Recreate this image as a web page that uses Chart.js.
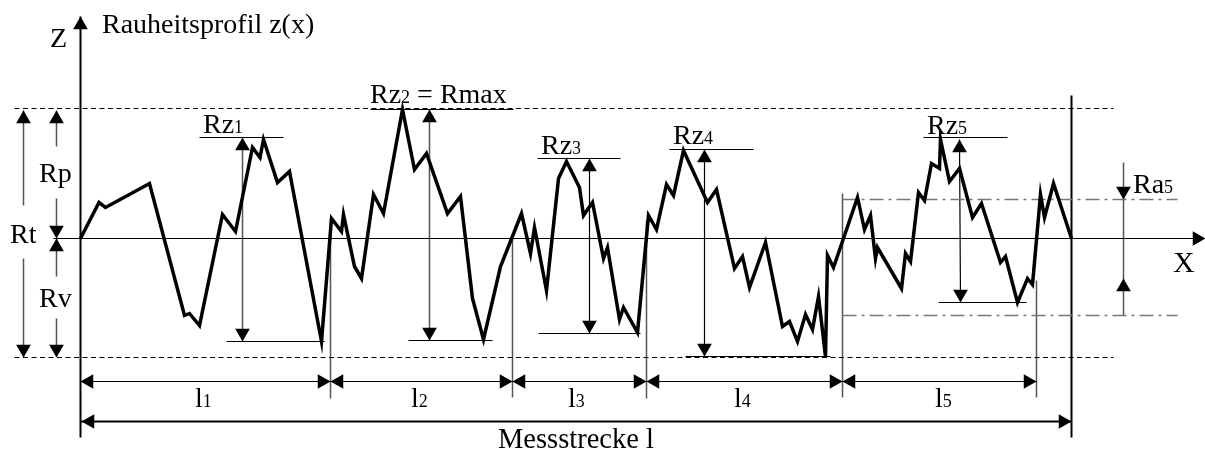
<!DOCTYPE html>
<html><head><meta charset="utf-8">
<style>html,body{margin:0;padding:0;background:#fff}#w{width:1205px;height:450px}</style>
<script src="https://cdn.jsdelivr.net/npm/chart.js@4"></script>
</head><body><div id="w"><canvas id="c" width="1205" height="450"></canvas></div>
<script>
// Roughness profile: x along the measuring length, z height above the mean line
const profileX=[0,18.5,25,69,104,109,119,142,155,172,179.5,183,197,209,241,251,261,263,274,281,293,303,322,334,346,367,380,392,403,420,441,450,454,466,478,486,499,503,512,523,527,539,543,557,568,576,586,593,603,627,636,654,662,669,685,702,709,717,725,732,738,745,747,753,777,784,790,795,797,821,825,830,838,844,851,859,860,869,879,892,901,920,925,937,947,952,960,964,973,991];
const profileZ=[0,36,31,55,-77,-75,-87,24,7,91,81,99,56,67,-103,20,7,24,-28,-40,44,25,129,69,85,25,42,-60,-101,-28,25,-15,11,-52,60,77,51,23,36,-20,-9,-81,-69,-94,23,9,54,43,88,36,49,-30,-18,-49,-4,-88,-83,-103,-76,-91,-58,-118,-17,-29,41,9,23,-20,-9,-50,-15,-23,46,38,75,70,99,57,70,21,35,-24,-18,-64,-40,-46,44,21,55,0];

const dashedLevels=[[-66,130,1033,130],[-66,-119,1033,-119]];
const dashDotLevels=[[762,39,1097,39],[762,-77,1097,-77]];
const heavyLines=[[0,222,0,-199],[991,143,991,-199],[1,-183,991,-183]];
const thinLines=[[-27,0,1115,0],
 [119,101,203,101],[146,-103,244,-103],[290,129,433,129],[328,-102,412,-102],
 [457,80,540,80],[458,-95,560,-95],[589,89,673,89],[605,-118,750,-118],
 [843,101,927,101],[858,-64,946,-64],
 [509,79,509,-94],[624,88,624,-118],[879,99,880,-64],
 [0,-143,250,-143],[250,-143,432,-143],[432,-143,566,-143],[566,-143,762,-143],[762,-143,956,-143]];
const greyLines=[[250,19,250,-160],[432,0,432,-159],[566,18,566,-160],[762,45,762,-159],[956,-42,956,-159],
 [162,99,162,-102],[349,129,349,-101],[1043,76,1043,-77],
 [-57,128,-57,33],[-57,-20,-57,-118],[-24,128,-24,92],[-24,40,-24,1],[-24,0,-24,-38],[-24,-80,-24,-118]];
// arrow tips: x, z, direction
const arrowTips=[[0,222,'u'],[1125,0,'r'],[-57,128,'u'],[-57,-119,'d'],[-24,128,'u'],[-24,0,'d'],[-24,0,'u'],[-24,-119,'d'],
 [162,101,'u'],[162,-103,'d'],[349,129,'u'],[349,-102,'d'],[509,80,'u'],[509,-95,'d'],[624,89,'u'],[624,-118,'d'],[879,99,'u'],[880,-64,'d'],
 [1043,39,'d'],[1043,-40,'u'],
 [0,-143,'l'],[250,-143,'r'],[250,-143,'l'],[432,-143,'r'],[432,-143,'l'],[566,-143,'r'],[566,-143,'l'],[762,-143,'r'],[762,-143,'l'],[956,-143,'r'],
 [1,-183,'l'],[991,-183,'r']];
// labels: main text, subscript, tail, left x, baseline z, font size
const labels=[['Rauheitsprofil z(x)','','',22,205,28],['Z','','',-30,191,28],['X','','',1093,-34,30],
 ['Rt','','',-70,-5,28],['Rp','','',-41,56,28],['Rv','','',-41,-69,28],
 ['Rz','1','',123,105,28],['Rz','2',' = Rmax',290,135,28],['Rz','3','',461,84,28],['Rz','4','',593,94,28],['Rz','5','',847,104,28],
 ['Ra','5','',1053,45,28],
 ['l','1','',115,-169,28],['l','2','',331,-169,28],['l','3','',488,-169,28],['l','4','',654,-169,28],['l','5','',855,-169,28],
 ['Messstrecke l','','',418,-210,28.5]];

const rotation={u:0,r:90,d:180,l:270};
const step={u:[0,-1],r:[-1,0],d:[0,1],l:[1,0]};
const headR=8.5;
const segs=a=>a.flatMap(s=>[{x:s[0],y:s[1]},{x:s[2],y:s[3]},{x:NaN,y:NaN}]);
const lineSet=(a,color,width,dash)=>({type:'line',data:segs(a),borderColor:color,borderWidth:width,borderDash:dash||[],pointRadius:0,spanGaps:false,tension:0,fill:false,order:3});

const textPlugin={id:'textPlugin',afterDraw(chart){
 const {ctx,scales:{x,y}}=chart;ctx.save();ctx.fillStyle='#000';ctx.textBaseline='alphabetic';
 for(const [m,s,t,lx,lz,size] of labels){
  let px=Math.floor(x.getPixelForValue(lx));const py=Math.floor(y.getPixelForValue(lz));
  ctx.font=size+'px "Liberation Serif"';ctx.fillText(m,px,py);px+=ctx.measureText(m).width;
  if(s){ctx.font=Math.round(size*0.65)+'px "Liberation Serif"';ctx.fillText(s,px,py);px+=ctx.measureText(s).width;}
  if(t){ctx.font=size+'px "Liberation Serif"';ctx.fillText(t,px,py);}
 }
 ctx.restore();
}};

new Chart(document.getElementById('c'),{
 type:'line',
 data:{datasets:[
  {label:'Rauheitsprofil z(x)',data:profileX.map((v,i)=>({x:v,y:profileZ[i]})),borderColor:'#000',borderWidth:3.5,borderJoinStyle:'miter',pointRadius:0,tension:0,fill:false,order:1},
  lineSet(dashedLevels,'#000',1.2,[5,3.5]),
  lineSet(dashDotLevels,'#777',1.5,[14,5,3,5]),
  lineSet(heavyLines,'#000',2),
  lineSet(thinLines,'#000',1.2),
  lineSet(greyLines,'#555',1.5),
  {type:'scatter',data:arrowTips.map(t=>({x:t[0]+step[t[2]][0]*headR,y:t[1]+step[t[2]][1]*headR})),
   pointStyle:'triangle',pointRadius:headR,pointHoverRadius:headR,pointRotation:arrowTips.map(t=>rotation[t[2]]),
   backgroundColor:'#000',borderColor:'#000',borderWidth:0,order:0}
 ]},
 options:{responsive:false,animation:false,events:[],
  layout:{padding:0,autoPadding:false},
  plugins:{legend:{display:false},tooltip:{enabled:false},title:{display:false}},
  scales:{
   x:{type:'linear',min:-80.5,max:1124.5,display:false},
   y:{type:'linear',min:-211.5,max:238.5,display:false}
  }},
 plugins:[textPlugin]
});
</script></body></html>
